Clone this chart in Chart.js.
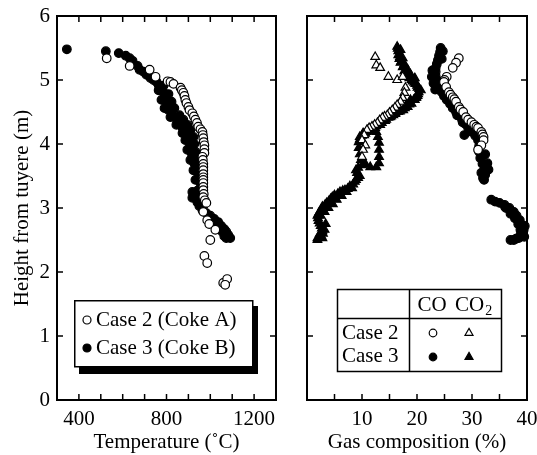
<!DOCTYPE html>
<html>
<head>
<meta charset="utf-8">
<script src="https://cdn.jsdelivr.net/npm/chart.js@4.4.1/dist/chart.umd.min.js"></script>
<style>
  html, body { margin: 0; padding: 0; background: #fff; }
  #wrap { position: relative; width: 537px; height: 455px; }
  #wrap canvas { position: absolute; left: 0; top: 0; }
</style>
</head>
<body>
<div id="wrap">
  <canvas id="tempChart" width="537" height="455"></canvas>
  <canvas id="gasChart" width="537" height="455"></canvas>
</div>
<script>
// Measured temperature (°C) vs height from tuyere (m)
const tempCase2 = [
  [527,5.34],[632,5.22],[723,5.16],[750,5.05],[805,4.98],[818,4.97],[832,4.94],[864,4.88],[870,4.84],
  [877,4.80],[882,4.75],[886,4.69],[891,4.64],[900,4.58],[905,4.53],[918,4.48],[925,4.43],[932,4.38],
  [939,4.33],[945,4.27],[955,4.23],[964,4.19],[966,4.14],[968,4.09],[970,4.03],[973,3.98],[973,3.92],
  [973,3.86],[964,3.80],[966,3.75],[968,3.69],[968,3.64],[968,3.59],[968,3.53],[968,3.48],[968,3.44],
  [968,3.39],[968,3.33],[968,3.28],[970,3.22],[968,3.17],[975,3.12],[982,3.08],[968,2.94],[986,2.81],
  [995,2.75],[1023,2.66],[1000,2.50],[973,2.25],[986,2.14],[1059,1.83],[1077,1.89],[1068,1.80]
];
const tempCase3 = [
  [345,5.48],[523,5.45],[582,5.42],[614,5.38],[632,5.34],[645,5.30],[668,5.22],[677,5.16],[695,5.13],
  [709,5.08],[727,5.03],[741,5.00],[755,4.97],[764,4.92],[777,4.88],[786,4.81],[795,4.75],[800,4.69],
  [809,4.63],[809,4.53],[823,4.48],[836,4.42],[850,4.36],[864,4.30],[873,4.25],[886,4.19],[895,4.13],
  [900,4.06],[909,4.00],[909,3.94],[914,3.86],[918,3.78],[927,3.70],[936,3.63],[945,3.55],[950,3.47],
  [955,3.39],[955,3.31],[941,3.27],[932,3.22],[932,3.16],[941,3.09],[950,3.03],[964,2.97],[982,2.92],
  [1000,2.88],[1018,2.83],[1036,2.78],[1050,2.72],[1064,2.67],[1073,2.63],[1082,2.58],[1091,2.53],
  [786,4.91],[809,4.78],[823,4.66],[836,4.56],[859,4.45],[877,4.38],[895,4.30],[909,4.22],[923,4.11],
  [927,4.00],[932,3.88],[941,3.78],[950,3.70],[955,3.63],[964,3.47],[964,3.31],[955,3.16],[968,3.03],
  [764,4.84],[777,4.69],[791,4.56],[818,4.42],[845,4.30],[873,4.17],[886,4.06],[895,3.91],[909,3.75],
  [923,3.59],[932,3.44],[918,3.25],[918,3.16],[1000,2.81],[1027,2.72],[1045,2.72],[1055,2.63],
  [1064,2.56],[1073,2.53]
];

// Gas composition (%) vs height from tuyere (m)
const coCase2 = [
  [27.6,5.34],[27.1,5.27],[26.5,5.19],[25.4,5.05],[25.0,5.00],[24.9,4.97],[25.3,4.89],[25.8,4.81],
  [26.1,4.77],[26.5,4.73],[26.8,4.70],[27.1,4.66],[27.6,4.58],[27.9,4.54],[28.4,4.50],[28.9,4.42],
  [29.3,4.38],[29.9,4.34],[30.4,4.30],[30.8,4.27],[31.1,4.25],[31.7,4.19],[31.9,4.15],[32.1,4.11],
  [32.1,4.06],[31.7,3.98],[31.1,3.91]
];
const coCase3 = [
  [24.3,5.50],[24.2,5.44],[24.0,5.38],[23.8,5.31],[23.6,5.25],[23.4,5.19],[23.4,5.13],[23.4,5.06],
  [23.6,5.00],[23.8,4.94],[24.2,4.88],[24.5,4.81],[24.9,4.75],[25.4,4.69],[26.0,4.63],[26.5,4.56],
  [27.1,4.50],[27.6,4.44],[28.2,4.38],[28.8,4.31],[29.3,4.25],[29.9,4.19],[30.6,4.13],[28.6,4.14],
  [31.1,4.06],[31.3,3.97],[31.3,3.88],[31.5,3.78],[31.9,3.69],[32.2,3.59],[32.4,3.52],[32.2,3.44],
  [33.5,3.13],[34.2,3.10],[35.0,3.08],[35.9,3.05],[36.0,3.02],[36.8,3.00],[36.2,3.00],[37.6,2.94],
  [37.0,2.91],[38.1,2.88],[37.8,2.84],[38.7,2.81],[39.0,2.73],[38.4,2.75],[39.6,2.72],[39.4,2.66],
  [38.8,2.66],[39.2,2.58],[38.8,2.58],[39.5,2.55],[38.5,2.53],[38.0,2.52],[37.6,2.50],[37.0,2.50],
  [24.7,5.45],[24.5,5.33],[22.8,5.15],[22.7,5.05],[23.0,4.95],[23.3,4.85],[25.8,4.72],[26.4,4.60],
  [27.3,4.45],[28.3,4.34],[32.4,3.84],[32.8,3.70],[33.0,3.60],[31.7,3.55],[32.0,3.47]
];
const co2Case2 = [
  [12.4,5.36],[12.6,5.23],[13.3,5.19],[14.8,5.05],[16.4,5.00],[17.4,5.05],[17.9,4.88],[17.7,4.80],
  [17.4,4.72],[17.0,4.66],[16.4,4.61],[16.0,4.57],[15.5,4.53],[15.0,4.49],[14.6,4.45],[14.1,4.43],
  [13.7,4.41],[13.2,4.37],[12.8,4.33],[12.3,4.30],[11.8,4.27],[11.3,4.25],[10.9,4.22],[10.4,4.14],
  [10.0,4.06],[10.6,3.98],[10.2,3.91],[10.0,3.80]
];
const co2Case3 = [
  [16.4,5.52],[16.6,5.45],[16.6,5.39],[16.8,5.33],[17.0,5.27],[17.4,5.20],[17.7,5.14],[18.1,5.08],
  [18.6,5.03],[19.2,4.98],[19.7,4.94],[20.1,4.88],[20.3,4.81],[20.1,4.75],[19.6,4.69],[19.0,4.63],
  [18.3,4.58],[17.5,4.53],[16.6,4.50],[15.7,4.45],[14.8,4.41],[13.9,4.36],[12.9,4.31],[12.0,4.27],
  [11.1,4.22],[10.2,4.17],[9.6,4.11],[9.4,4.03],[9.4,3.94],[9.6,3.84],[9.8,3.75],[10.6,3.69],
  [11.5,3.64],[12.6,3.64],[13.1,3.70],[13.1,3.80],[13.1,3.91],[13.1,4.02],[12.9,4.11],[12.6,4.19],
  [9.3,3.63],[9.1,3.55],[9.3,3.47],[8.7,3.41],[7.8,3.34],[6.9,3.28],[6.0,3.25],[5.0,3.20],[4.3,3.14],
  [3.6,3.08],[2.8,3.02],[2.3,2.94],[1.9,2.88],[2.1,2.80],[2.5,2.72],[2.8,2.64],[2.6,2.56],[1.9,2.50],
  [17.0,5.47],[17.4,5.34],[17.7,5.25],[18.3,5.16],[18.8,5.09],[19.6,5.03],[19.9,4.94],[20.7,4.84],
  [19.4,4.69],[18.8,4.69],[17.9,4.59],[17.0,4.53],[16.1,4.48],[15.1,4.42],[14.2,4.36],[13.3,4.30],
  [12.4,4.25],[11.5,4.20],[10.6,4.16],[10.0,3.67],[8.9,3.59],[9.6,3.50],[8.9,3.44],[8.2,3.31],
  [7.2,3.25],[6.3,3.19],[5.4,3.13],[4.7,3.06],[3.9,3.00],[3.2,2.94],[2.5,2.88],[3.4,2.75],[3.2,2.66],
  [2.8,2.53],[1.9,2.53],[2.3,2.59],
  [19.8,4.72],[18.6,4.62],[17.8,4.56],[16.9,4.51],[16.0,4.47],[15.3,4.43],[14.4,4.38],[13.6,4.33],
  [12.6,4.28],[11.7,4.24],[10.8,4.19],[10.0,4.13],[9.6,4.07],
  [8.4,3.37],[7.4,3.30],[6.5,3.27],[5.6,3.22],[4.6,3.17],[4.0,3.11],[3.3,3.05],[2.6,2.98],[2.1,2.91],
  [2.0,2.84],[2.3,2.76],[2.7,2.68],[2.9,2.60],[2.3,2.55],
  [16.5,5.49],[16.9,5.36],[17.2,5.30],[17.6,5.22],[18.0,5.12],[18.4,5.06],[19.0,5.00],[19.5,4.96],
  [20.0,4.91],[20.4,4.86],[20.2,4.78],[19.9,4.73]
];

// Axis ranges and tick steps
const tempRange = [300, 1300], tempStep = 100, tempLabelEvery = 400;
const gasRange = [0, 40], gasStep = 5, gasLabelEvery = 10;
const heightRange = [0, 6];

const serif = '"Liberation Serif", "Times New Roman", Times, serif';
Chart.defaults.font.family = serif;
Chart.defaults.font.size = 21;
Chart.defaults.color = '#000';

const toXY = arr => arr.map(([x, y]) => ({ x, y }));

function series(label, arr, style, filled, order) {
  return {
    label,
    data: toXY(arr),
    pointStyle: style,
    pointRadius: style === 'triangle' ? 5 : 4.3,
    pointHoverRadius: style === 'triangle' ? 5 : 4.3,
    backgroundColor: filled ? '#000' : '#fff',
    borderColor: '#000',
    borderWidth: 1.2,
    showLine: false,
    clip: false,
    order
  };
}

// Keep the plot frame where the layout padding puts it, not where label overhang would push it
function fixX(height) {
  return s => { s.height = height; s.paddingLeft = 0; s.paddingRight = 0; };
}
function fixY(width) {
  return s => { s.width = width; s.paddingTop = 0; s.paddingBottom = 0; };
}

// Frame around the plot area with inward tick marks on all four sides
const frameTicks = {
  id: 'frameTicks',
  afterDraw(chart) {
    const { ctx, chartArea: a, scales: { x, y } } = chart;
    const len = 6;
    ctx.save();
    ctx.strokeStyle = '#000';
    ctx.lineWidth = 1.5;
    ctx.beginPath();
    x.ticks.forEach(t => {
      const px = x.getPixelForValue(t.value);
      ctx.moveTo(px, a.bottom); ctx.lineTo(px, a.bottom - len);
      ctx.moveTo(px, a.top); ctx.lineTo(px, a.top + len);
    });
    y.ticks.forEach(t => {
      const py = y.getPixelForValue(t.value);
      ctx.moveTo(a.left, py); ctx.lineTo(a.left + len, py);
      ctx.moveTo(a.right, py); ctx.lineTo(a.right - len, py);
    });
    ctx.stroke();
    ctx.lineWidth = 2;
    ctx.strokeRect(a.left, a.top, a.right - a.left, a.bottom - a.top);
    ctx.restore();
  }
};

function marker(ctx, style, filled, x, y, r) {
  ctx.fillStyle = filled ? '#000' : '#fff';
  ctx.strokeStyle = '#000';
  ctx.lineWidth = 1.2;
  Chart.helpers.drawPoint(ctx, { pointStyle: style, radius: r, borderWidth: 1.2, rotation: 0 }, x, y);
}

// Boxed legend with drop shadow for the temperature panel
const tempLegend = {
  id: 'tempLegend',
  afterDraw(chart) {
    const ctx = chart.ctx;
    ctx.save();
    ctx.fillStyle = '#000';
    ctx.fillRect(79, 306, 179, 68);
    ctx.fillStyle = '#fff';
    ctx.fillRect(74, 300, 179, 67);
    ctx.strokeStyle = '#000';
    ctx.lineWidth = 1.5;
    ctx.strokeRect(74.75, 300.75, 178, 66);
    marker(ctx, 'circle', false, 87, 320, 4);
    marker(ctx, 'circle', true, 87, 348, 4);
    ctx.fillStyle = '#000';
    ctx.font = '21px ' + serif;
    ctx.textBaseline = 'middle';
    ctx.textAlign = 'left';
    ctx.fillText('Case 2 (Coke A)', 96, 320);
    ctx.fillText('Case 3 (Coke B)', 96, 348);
    ctx.restore();
  }
};

// Table legend for the gas composition panel
const gasLegend = {
  id: 'gasLegend',
  afterDraw(chart) {
    const ctx = chart.ctx;
    ctx.save();
    ctx.fillStyle = '#fff';
    ctx.fillRect(337, 289, 165, 83);
    ctx.strokeStyle = '#000';
    ctx.lineWidth = 1.5;
    ctx.strokeRect(337.5, 289.5, 164, 82);
    ctx.beginPath();
    ctx.moveTo(409.5, 289.5); ctx.lineTo(409.5, 371.5);
    ctx.moveTo(337.5, 318.5); ctx.lineTo(501.5, 318.5);
    ctx.stroke();
    ctx.fillStyle = '#000';
    ctx.font = '21px ' + serif;
    ctx.textBaseline = 'middle';
    ctx.textAlign = 'center';
    ctx.fillText('CO', 432, 305);
    ctx.textAlign = 'left';
    ctx.fillText('CO', 455, 305);
    const coW = ctx.measureText('CO').width;
    ctx.font = '14px ' + serif;
    ctx.fillText('2', 455 + coW + 1, 311);
    ctx.font = '21px ' + serif;
    ctx.fillText('Case 2', 342, 333);
    ctx.fillText('Case 3', 342, 356);
    marker(ctx, 'circle', false, 433, 333, 3.8);
    marker(ctx, 'triangle', false, 469, 333, 4.6);
    marker(ctx, 'circle', true, 433, 357, 3.8);
    marker(ctx, 'triangle', true, 469, 357, 4.6);
    ctx.restore();
  }
};

const noGrid = { display: false, drawTicks: false };

new Chart(document.getElementById('tempChart'), {
  type: 'scatter',
  data: {
    datasets: [
      series('Case 2 (Coke A)', tempCase2, 'circle', false, 0),
      series('Case 3 (Coke B)', tempCase3, 'circle', true, 1)
    ]
  },
  options: {
    responsive: false,
    animation: false,
    devicePixelRatio: 1,
    layout: { padding: { left: 0, top: 16, right: 261, bottom: 0 } },
    plugins: { legend: { display: false }, tooltip: { enabled: false } },
    scales: {
      x: {
        type: 'linear', min: tempRange[0], max: tempRange[1],
        grid: noGrid, border: { display: false },
        ticks: {
          stepSize: tempStep, autoSkip: false, maxRotation: 0, padding: 7,
          callback: v => (v % tempLabelEvery === 0 ? String(v) : '')
        },
        title: { display: true, text: 'Temperature (˚C)', padding: 0 },
        afterFit: fixX(55)
      },
      y: {
        type: 'linear', min: heightRange[0], max: heightRange[1],
        grid: noGrid, border: { display: false },
        ticks: { stepSize: 1, padding: 7 },
        title: { display: true, text: 'Height from tuyere (m)', padding: { top: 10, bottom: 0 } },
        afterFit: fixY(57)
      }
    }
  },
  plugins: [frameTicks, tempLegend]
});

new Chart(document.getElementById('gasChart'), {
  type: 'scatter',
  data: {
    datasets: [
      series('CO Case 2', coCase2, 'circle', false, 0),
      series('CO2 Case 2', co2Case2, 'triangle', false, 0),
      series('CO Case 3', coCase3, 'circle', true, 1),
      series('CO2 Case 3', co2Case3, 'triangle', true, 1)
    ]
  },
  options: {
    responsive: false,
    animation: false,
    devicePixelRatio: 1,
    layout: { padding: { left: 0, top: 16, right: 10, bottom: 0 } },
    plugins: { legend: { display: false }, tooltip: { enabled: false } },
    scales: {
      x: {
        type: 'linear', min: gasRange[0], max: gasRange[1],
        grid: noGrid, border: { display: false },
        ticks: {
          stepSize: gasStep, autoSkip: false, maxRotation: 0, padding: 7,
          callback: v => (v > 0 && v % gasLabelEvery === 0 ? String(v) : '')
        },
        title: { display: true, text: 'Gas composition (%)', padding: 0 },
        afterFit: fixX(55)
      },
      y: {
        type: 'linear', min: heightRange[0], max: heightRange[1],
        grid: noGrid, border: { display: false },
        ticks: { stepSize: 1, display: false },
        afterFit: fixY(307)
      }
    }
  },
  plugins: [frameTicks, gasLegend]
});
</script>
</body>
</html>
